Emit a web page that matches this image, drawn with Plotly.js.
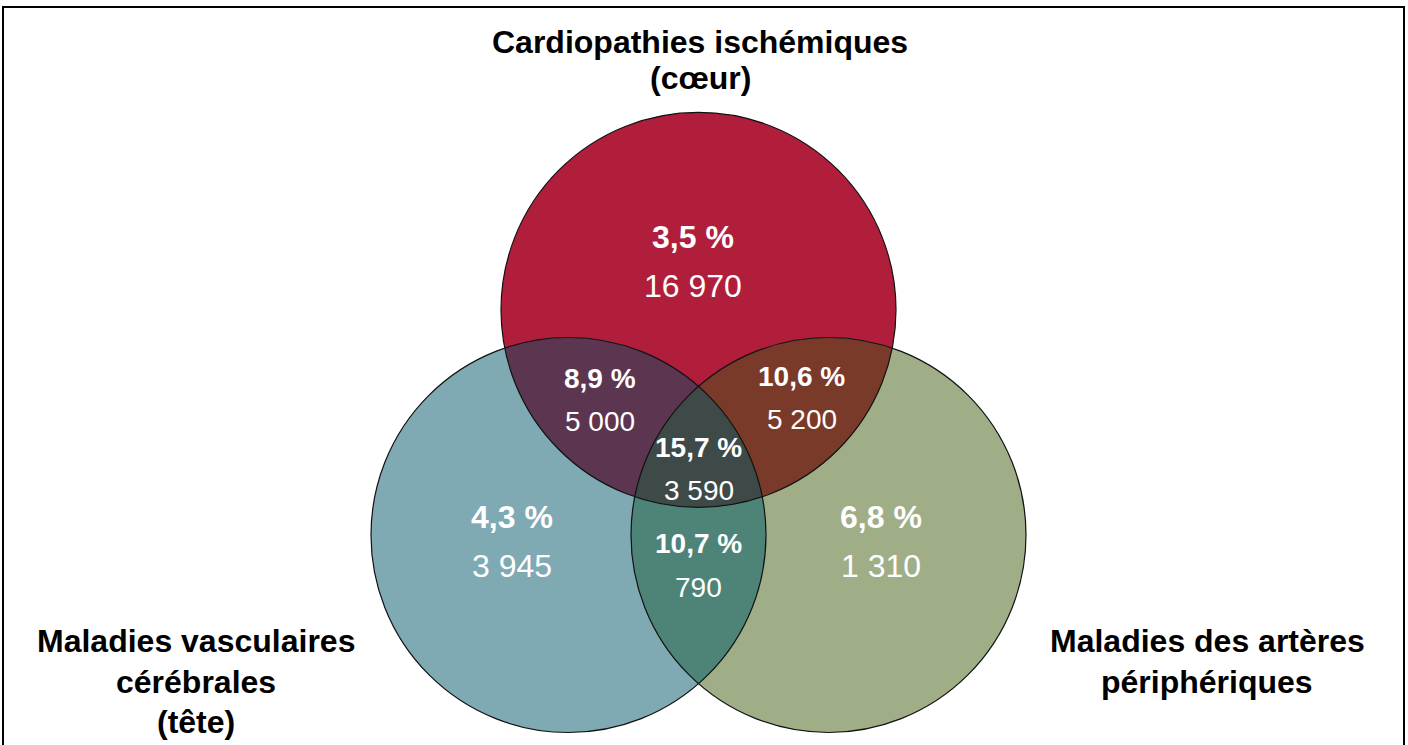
<!DOCTYPE html>
<html>
<head>
<meta charset="utf-8">
<script src="https://cdn.plot.ly/plotly-3.0.1.min.js"></script>
<style>
  html, body { margin: 0; padding: 0; background: #fff; }
  #plot { width: 1408px; height: 745px; }
</style>
</head>
<body>
<div id="plot"></div>
<script>
// data
var setTitles = [
  ['Cardiopathies ischémiques', '(cœur)'],
  ['Maladies vasculaires', 'cérébrales', '(tête)'],
  ['Maladies des artères', 'périphériques']
];
// which sets each region belongs to (0 = coeur, 1 = tête, 2 = artères)
var regionSets = [[0], [0, 1], [0, 2], [0, 1, 2], [1], [1, 2], [2]];
var regionPct = [3.5, 8.9, 10.6, 15.7, 4.3, 10.7, 6.8];
var regionCount = [16970, 5000, 5200, 3590, 3945, 790, 1310];

// styles
var regionColors = ['#B01E3C', '#5C3650', '#7A3A2A', '#3E4A48', '#7FAAB3', '#4E8478', '#A0AE88'];
var labelSize = [32, 28, 28, 28, 32, 28, 32];
// small shifts of the labels away from the region centroid
var labelNudge = [[-5, 14], [2, -2], [3, -4], [0, 9], [-2, -25], [0, -10], [-2, -25]];
var font = 'Liberation Sans, Arial, sans-serif';

// geometry of the diagram (pixel space)
var R = 197.5, side = 260, cx = 698.5, baseY = 535;
var centers = [
  [cx, baseY - side * Math.sqrt(3) / 2],
  [cx - side / 2, baseY],
  [cx + side / 2, baseY]
];
var titlePos = [[[700, 42], [700, 78]], [[196, 641], [196, 682], [196, 722]], [[1207, 641], [1207, 682]]];

function inside(p, i, tol) {
  var dx = p[0] - centers[i][0], dy = p[1] - centers[i][1];
  return dx * dx + dy * dy <= (R + (tol || 0)) * (R + (tol || 0));
}

// polygon of the intersection of the given circles
function interPoly(ids) {
  var pts = [];
  ids.forEach(function (i) {
    for (var k = 0; k < 1440; k++) {
      var a = k / 1440 * 2 * Math.PI;
      var p = [centers[i][0] + R * Math.cos(a), centers[i][1] + R * Math.sin(a)];
      if (ids.every(function (j) { return j === i || inside(p, j, 0.01); })) pts.push(p);
    }
  });
  var mx = 0, my = 0;
  pts.forEach(function (p) { mx += p[0]; my += p[1]; });
  mx /= pts.length; my /= pts.length;
  pts.sort(function (a, b) {
    return Math.atan2(a[1] - my, a[0] - mx) - Math.atan2(b[1] - my, b[0] - mx);
  });
  pts.push(pts[0]);
  return pts;
}

// centroid of the exclusive region (grid sampling)
function regionCentroid(ids) {
  var sx = 0, sy = 0, n = 0;
  for (var x = 300; x < 1100; x += 2) {
    for (var y = 100; y < 745; y += 2) {
      var ok = true;
      for (var i = 0; i < 3; i++) {
        if (inside([x, y], i) !== (ids.indexOf(i) >= 0)) { ok = false; break; }
      }
      if (ok) { sx += x; sy += y; n++; }
    }
  }
  return [sx / n, sy / n];
}

function fmtPct(v) { return v.toFixed(1).replace('.', ',') + ' %'; }
function fmtCount(v) { return String(v).replace(/\B(?=(\d{3})+(?!\d))/g, ' '); }

var order = regionSets.map(function (s, i) { return i; })
  .sort(function (a, b) { return regionSets[a].length - regionSets[b].length; });

var traces = order.map(function (r) {
  var poly = interPoly(regionSets[r]);
  return {
    x: poly.map(function (p) { return p[0]; }),
    y: poly.map(function (p) { return p[1]; }),
    type: 'scatter',
    mode: 'lines',
    fill: 'toself',
    fillcolor: regionColors[r],
    line: { width: 0 },
    hoverinfo: 'skip',
    showlegend: false
  };
});

var annotations = [];
regionSets.forEach(function (s, r) {
  var c = regionCentroid(s);
  var x = c[0] + labelNudge[r][0], y = c[1] + labelNudge[r][1];
  var gap = labelSize[r] * 0.77;
  annotations.push({
    x: x, y: y - gap, text: '<b>' + fmtPct(regionPct[r]) + '</b>',
    showarrow: false, font: { family: font, size: labelSize[r], color: '#ffffff' }
  });
  annotations.push({
    x: x, y: y + gap, text: fmtCount(regionCount[r]),
    showarrow: false, font: { family: font, size: labelSize[r], color: '#ffffff' }
  });
});
setTitles.forEach(function (lines, i) {
  lines.forEach(function (t, k) {
    annotations.push({
      x: titlePos[i][k][0], y: titlePos[i][k][1], text: '<b>' + t + '</b>',
      showarrow: false, font: { family: font, size: 32, color: '#000000' }
    });
  });
});

var shapes = centers.map(function (c) {
  return {
    type: 'circle', xref: 'x', yref: 'y',
    x0: c[0] - R, x1: c[0] + R, y0: c[1] - R, y1: c[1] + R,
    line: { color: '#111111', width: 1.2 }, fillcolor: 'rgba(0,0,0,0)'
  };
});
shapes.push({
  type: 'rect', xref: 'x', yref: 'y', x0: 3, x1: 1404, y0: 7, y1: 760,
  line: { color: '#000000', width: 2 }
});

var layout = {
  width: 1408,
  height: 745,
  margin: { l: 0, r: 0, t: 0, b: 0 },
  paper_bgcolor: '#ffffff',
  plot_bgcolor: '#ffffff',
  xaxis: { range: [0, 1408], visible: false, fixedrange: true },
  yaxis: { range: [745, 0], visible: false, fixedrange: true },
  shapes: shapes,
  annotations: annotations,
  showlegend: false
};

Plotly.newPlot('plot', traces, layout, { displayModeBar: false, staticPlot: true });
</script>
</body>
</html>
